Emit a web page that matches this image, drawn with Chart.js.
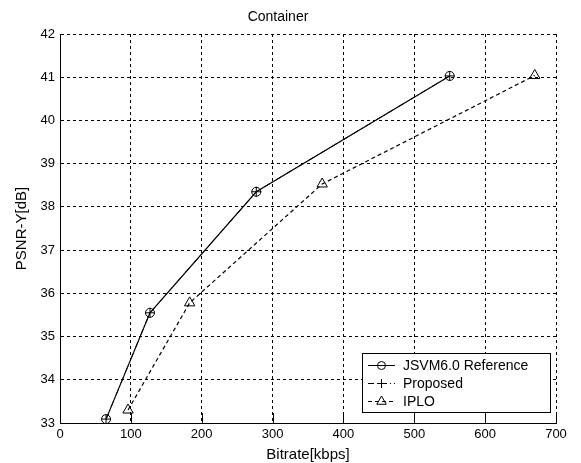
<!DOCTYPE html>
<html>
<head>
<meta charset="utf-8">
<script src="https://cdn.jsdelivr.net/npm/chart.js@4/dist/chart.umd.min.js"></script>
<style>
  html, body { margin: 0; padding: 0; background: #fff; }
  #wrap { width: 581px; height: 463px; position: relative; }
</style>
</head>
<body>
<div id="wrap"><canvas id="c" width="581" height="463"></canvas></div>
<script>
// ---- data ----
const chartTitle = 'Container';
const xAxisLabel = 'Bitrate[kbps]';
const yAxisLabel = 'PSNR-Y[dB]';
const xTicks = [0, 100, 200, 300, 400, 500, 600, 700];
const yTicks = [33, 34, 35, 36, 37, 38, 39, 40, 41, 42];

const seriesNames = ['JSVM6.0 Reference', 'Proposed', 'IPLO'];

const jsvmRate = [65, 127, 277, 550];
const jsvmPsnr = [33.09, 35.55, 38.35, 41.03];

const proposedRate = [65, 127, 277, 550];
const proposedPsnr = [33.09, 35.55, 38.35, 41.03];

const iploRate = [96, 183, 370, 670];
const iploPsnr = [33.30, 35.78, 38.53, 41.04];

function pts(xs, ys) { return xs.map((x, i) => ({ x: x, y: ys[i] })); }

const FONT = "'Liberation Sans', Arial, Helvetica, sans-serif";

// Legend drawn inside the plot area (MATLAB style)
const insideLegend = {
  id: 'insideLegend',
  afterDatasetsDraw(chart) {
    const ctx = chart.ctx;
    const ca = chart.chartArea;
    const w = 188, h = 59, rowH = 18;
    const right = ca.right - 6, bottom = ca.bottom - 11;
    const left = right - w, top = bottom - h;
    ctx.save();
    ctx.fillStyle = '#fff';
    ctx.fillRect(left, top, w, h);
    ctx.strokeStyle = '#000';
    ctx.lineWidth = 1;
    ctx.setLineDash([]);
    ctx.strokeRect(Math.round(left) + 0.5, Math.round(top) + 0.5, w, h);
    chart.data.datasets.forEach((ds, i) => {
      const cy = Math.round(top + 12 + i * rowH) + 0.5;
      const x1 = left + 6, x2 = left + 33, cx = (x1 + x2) / 2;
      ctx.strokeStyle = '#000';
      ctx.lineWidth = 1;
      ctx.setLineDash(ds.borderDash || []);
      ctx.beginPath();
      ctx.moveTo(x1, cy);
      ctx.lineTo(x2, cy);
      ctx.stroke();
      ctx.setLineDash([]);
      ctx.fillStyle = 'rgba(0,0,0,0)';
      Chart.helpers.drawPoint(ctx, {
        pointStyle: ds.pointStyle,
        radius: ds.pointRadius - 0.5,
        borderWidth: 1,
        rotation: 0
      }, cx, cy);
      ctx.fillStyle = '#000';
      ctx.font = '14px ' + FONT;
      ctx.textBaseline = 'middle';
      ctx.textAlign = 'left';
      ctx.fillText(ds.label, left + 41, cy + 1);
    });
    ctx.restore();
  }
};

// inward tick marks on the bottom axis
const inwardTicks = {
  id: 'inwardTicks',
  beforeDatasetsDraw(chart) {
    const ctx = chart.ctx;
    const xs = chart.scales.x;
    const ca = chart.chartArea;
    ctx.save();
    ctx.strokeStyle = '#000';
    ctx.lineWidth = 1;
    ctx.setLineDash([]);
    xs.ticks.forEach(t => {
      const px = Math.round(xs.getPixelForValue(t.value)) + 0.5;
      ctx.beginPath();
      ctx.moveTo(px, ca.bottom);
      ctx.lineTo(px, ca.bottom - 10);
      ctx.stroke();
    });
    ctx.restore();
  }
};

new Chart(document.getElementById('c'), {
  type: 'scatter',
  data: {
    datasets: [
      {
        label: seriesNames[0],
        data: pts(jsvmRate, jsvmPsnr),
        showLine: true,
        borderColor: '#000',
        backgroundColor: 'rgba(0,0,0,0)',
        borderWidth: 1.2,
        pointStyle: 'circle',
        pointRadius: 4.5,
        pointBorderWidth: 1,
        pointBackgroundColor: 'rgba(0,0,0,0)',
        pointBorderColor: '#000',
        tension: 0
      },
      {
        label: seriesNames[1],
        data: pts(proposedRate, proposedPsnr),
        showLine: true,
        borderColor: '#000',
        backgroundColor: 'rgba(0,0,0,0)',
        borderWidth: 1,
        borderDash: [6, 3, 1, 3],
        pointStyle: 'cross',
        pointRadius: 5,
        pointBorderWidth: 1,
        pointBorderColor: '#000',
        tension: 0
      },
      {
        label: seriesNames[2],
        data: pts(iploRate, iploPsnr),
        showLine: true,
        borderColor: '#000',
        backgroundColor: 'rgba(0,0,0,0)',
        borderWidth: 1.2,
        borderDash: [4, 3],
        pointStyle: 'triangle',
        pointRadius: 6,
        pointBorderWidth: 1,
        pointBackgroundColor: 'rgba(0,0,0,0)',
        pointBorderColor: '#000',
        tension: 0
      }
    ]
  },
  options: {
    responsive: false,
    animation: false,
    events: [],
    layout: { padding: { left: 0, right: 25, top: 0, bottom: 0 } },
    plugins: {
      legend: { display: false },
      tooltip: { enabled: false },
      title: {
        display: true,
        text: chartTitle,
        color: '#000',
        font: { family: FONT, size: 14, weight: 'normal', lineHeight: 1.2 },
        padding: { top: 8.6, bottom: 8.6 }
      }
    },
    scales: {
      x: {
        type: 'linear',
        min: 0,
        max: 700,
        afterBuildTicks: (s) => { s.ticks = xTicks.map(v => ({ value: v })); },
        ticks: {
          color: '#000',
          font: { family: FONT, size: 13 },
          padding: 4,
          maxRotation: 0,
          autoSkip: false
        },
        grid: { color: '#000', lineWidth: 1, drawTicks: false },
        border: { display: true, color: '#000', width: 1, dash: [3, 3] },
        title: {
          display: true,
          text: xAxisLabel,
          color: '#000',
          font: { family: FONT, size: 15, lineHeight: 1.0 },
          padding: { top: 0, bottom: 1 }
        },
        afterFit: (s) => { s.height = 40; }
      },
      y: {
        type: 'linear',
        min: 33,
        max: 42,
        afterBuildTicks: (s) => { s.ticks = yTicks.map(v => ({ value: v })); },
        ticks: {
          color: '#000',
          font: { family: FONT, size: 13 },
          padding: 5,
          autoSkip: false
        },
        grid: { color: '#000', lineWidth: 1, drawTicks: false },
        border: { display: true, color: '#000', width: 1, dash: [3, 3] },
        title: {
          display: true,
          text: yAxisLabel,
          color: '#000',
          font: { family: FONT, size: 15, lineHeight: 1.2 },
          padding: { top: 13, bottom: 0 }
        },
        afterFit: (s) => { s.width = 60; }
      }
    }
  },
  plugins: [inwardTicks, insideLegend]
});
</script>
</body>
</html>
